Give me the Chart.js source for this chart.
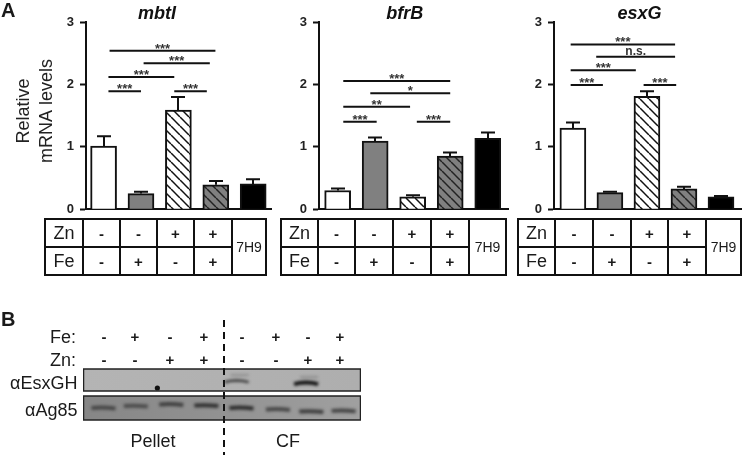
<!DOCTYPE html>
<html>
<head>
<meta charset="utf-8">
<script src="https://cdn.jsdelivr.net/npm/chart.js@4"></script>
<style>
  html, body { margin: 0; padding: 0; background: #fff; }
  #page { position: relative; width: 742px; height: 455px; overflow: hidden; font-family: "Liberation Sans", Arial, sans-serif; color: #1a1a1a; }
  canvas { position: absolute; display: block; }
  .txt { position: absolute; white-space: nowrap; line-height: 1; will-change: transform; }
  table { position: absolute; border-collapse: collapse; table-layout: fixed; will-change: transform; }
  td { border: 2px solid #111; padding: 0; text-align: center; height: 26px; font-size: 15px; font-weight: bold; }
  td.name { font-size: 18px; font-weight: normal; }
  td.m { font-size: 14px; font-weight: normal; }
  #dash { position: absolute; left: 223px; top: 320px; height: 135px; width: 2px;
    background: repeating-linear-gradient(to bottom, #111 0 7px, transparent 7px 12px); }
</style>
</head>
<body>
<div id="page">
  <canvas id="mbtI" width="272" height="223" style="left:0;top:0"></canvas>
  <canvas id="bfrB" width="274" height="223" style="left:235px;top:0"></canvas>
  <canvas id="esxG" width="273" height="223" style="left:469px;top:0"></canvas>
  <canvas id="blot" width="278" height="53" style="left:83px;top:368px"></canvas>
  <div id="dash"></div>
</div>
<script>
// DATA
const yTicks = [0, 1, 2, 3];
const znRow = ['-', '-', '+', '+'];
const feRow = ['-', '+', '-', '+'];
const otherLabel = '7H9';

const mbtIValues = [1.01, 0.25, 1.59, 0.39, 0.405];
const mbtIErrors = [1.17, 0.28, 1.80, 0.45, 0.48];
const mbtIFrom = [0.16, 1.07, 0.13, 0.13, 1.89];
const mbtITo = [2.99, 2.84, 1.89, 1.00, 2.76];
const mbtILevel = [2.54, 2.34, 2.12, 1.89, 1.89];
const mbtIMarks = ['***', '***', '***', '***', '***'];

const bfrBValues = [0.30, 1.09, 0.20, 0.85, 1.137];
const bfrBErrors = [0.33, 1.15, 0.225, 0.91, 1.23];
const bfrBFrom = [0.15, 0.87, 0.15, 0.15, 2.11];
const bfrBTo = [3.00, 3.00, 1.93, 1.04, 3.00];
const bfrBLevel = [2.055, 1.86, 1.64, 1.40, 1.40];
const bfrBMarks = ['***', '*', '**', '***', '***'];

const esxGValues = [1.30, 0.265, 1.81, 0.325, 0.197];
const esxGErrors = [1.39, 0.28, 1.89, 0.36, 0.21];
const esxGFrom = [-0.06, 0.63, -0.06, -0.06, 1.91];
const esxGTo = [2.76, 2.76, 1.70, 0.81, 2.79];
const esxGLevel = [2.64, 2.445, 2.226, 1.99, 1.99];
const esxGMarks = ['***', 'n.s.', '***', '***', '***'];

// blot lanes, band position is fraction of strip height
const blotFe = ['-', '+', '-', '+', '-', '+', '-', '+'];
const blotZn = ['-', '-', '+', '+', '-', '-', '+', '+'];
const ag85Lane = [0.59, 1.52, 2.54, 3.55, 4.56, 5.61, 6.57, 7.5];
const ag85Pos = [0.5, 0.42, 0.35, 0.4, 0.5, 0.56, 0.65, 0.62];
const ag85Signal = [0.7, 0.65, 0.8, 0.95, 1, 0.75, 0.85, 0.8];
const esxLane = [4.42, 6.42];
const esxPos = [0.55, 0.64];
const esxSignal = [0.8, 1];

function hatch(bg, line) {
  const c = document.createElement('canvas');
  c.width = 9; c.height = 9;
  const x = c.getContext('2d');
  x.fillStyle = bg; x.fillRect(0, 0, 9, 9);
  x.strokeStyle = line; x.lineWidth = 1.5;
  [-9, 0, 9].forEach(o => { x.beginPath(); x.moveTo(o, 0); x.lineTo(o + 9, 9); x.stroke(); });
  return x.createPattern(c, 'repeat');
}
const fills = ['#ffffff', '#808080', hatch('#ffffff', '#111111'), hatch('#808080', '#222222'), '#000000'];

// error bars, significance marks and the gene name
const extras = {
  id: 'extras',
  beforeDatasetsDraw(chart, args, o) {
    const ctx = chart.ctx, sx = chart.scales.x, sy = chart.scales.y;
    ctx.save();
    ctx.strokeStyle = '#111'; ctx.lineWidth = 2;
    o.errors.forEach((e, i) => {
      const px = Math.round(sx.getPixelForValue(i)), top = sy.getPixelForValue(e);
      ctx.beginPath();
      ctx.moveTo(px, sy.getPixelForValue(o.values[i])); ctx.lineTo(px, top);
      ctx.moveTo(px - 7, top); ctx.lineTo(px + 7, top);
      ctx.stroke();
    });
    ctx.restore();
  },
  afterDraw(chart, args, o) {
    const ctx = chart.ctx, sx = chart.scales.x, sy = chart.scales.y;
    ctx.save();
    ctx.textAlign = 'center';
    ctx.fillStyle = '#333';
    o.marks.forEach((m, i) => {
      const px = sx.getPixelForValue((o.from[i] + o.to[i]) / 2), py = sy.getPixelForValue(o.level[i]);
      ctx.textBaseline = 'alphabetic';
      if (m === 'n.s.') {
        ctx.font = 'bold 12px "Liberation Sans"';
        ctx.fillText(m, px, py - 2);
      } else {
        ctx.font = 'bold 13px "Liberation Sans"';
        ctx.fillText(m, px, py + 2);
      }
    });
    ctx.fillStyle = '#111';
    ctx.font = 'italic bold 18px "Liberation Sans"';
    ctx.textBaseline = 'middle';
    ctx.fillText(o.name, sx.getPixelForValue(o.nameAt), 14);
    if (o.yLabel) {
      ctx.fillStyle = '#222';
      ctx.font = '18px "Liberation Sans"';
      o.yLabel.forEach((line, i) => {
        ctx.save();
        ctx.translate(24 + i * 23, 111);
        ctx.rotate(-Math.PI / 2);
        ctx.fillText(line, 0, 0);
        ctx.restore();
      });
    }
    ctx.restore();
  }
};

function makeChart(name, values, errors, from, to, level, marks, opt) {
  const datasets = [{
    type: 'bar',
    data: values.map((v, i) => ({ x: i, y: v })),
    backgroundColor: fills,
    borderColor: '#111',
    borderWidth: 2,
    barThickness: 26
  }];
  from.forEach((f, i) => {
    datasets.push({
      type: 'scatter',
      data: [{ x: f, y: level[i] }, { x: to[i], y: level[i] }],
      showLine: true,
      borderColor: '#111',
      borderWidth: 2,
      pointRadius: 0
    });
  });
  new Chart(document.getElementById(name), {
    type: 'bar',
    data: { datasets: datasets },
    plugins: [extras],
    options: {
      responsive: false,
      animation: false,
      layout: { padding: { top: 22, bottom: 8, right: 1, left: 0 } },
      plugins: {
        legend: { display: false },
        tooltip: { enabled: false },
        extras: { name, values, errors, from, to, level, marks, nameAt: opt.nameAt, yLabel: opt.yLabel }
      },
      scales: {
        x: {
          type: 'linear', min: opt.min, max: opt.max, offset: false,
          grid: { display: false },
          border: { color: '#111', width: 2 },
          ticks: { display: false },
          afterFit: s => { s.height = 0; }
        },
        y: {
          min: 0, max: 3,
          afterBuildTicks: s => { s.ticks = yTicks.map(v => ({ value: v })); },
          afterFit: s => { s.width = opt.axisWidth; },
          grid: { drawOnChartArea: false, tickLength: 6, tickColor: '#111', tickWidth: 2 },
          border: { color: '#111', width: 2 },
          ticks: { color: '#222', padding: 6, font: { family: '"Liberation Sans"', size: 13, weight: 'bold' } }
        }
      }
    }
  });
}

makeChart('mbtI', mbtIValues, mbtIErrors, mbtIFrom, mbtITo, mbtILevel, mbtIMarks,
  { min: -0.47, max: 4.476, nameAt: 1.43, axisWidth: 86, yLabel: ['Relative', 'mRNA levels'] });
makeChart('bfrB', bfrBValues, bfrBErrors, bfrBFrom, bfrBTo, bfrBLevel, bfrBMarks,
  { min: -0.497, max: 4.54, nameAt: 1.79, axisWidth: 84 });
makeChart('esxG', esxGValues, esxGErrors, esxGFrom, esxGTo, esxGLevel, esxGMarks,
  { min: -0.51, max: 4.54, nameAt: 1.8, axisWidth: 85 });

// condition tables under the bars
const page = document.getElementById('page');
function addTable(left, widths) {
  const t = document.createElement('table');
  t.style.left = left + 'px';
  t.style.top = '218px';
  t.style.width = widths.reduce((a, b) => a + b, 0) + 'px';
  let html = '<colgroup>' + widths.map(w => '<col style="width:' + w + 'px">').join('') + '</colgroup>';
  html += '<tr><td class="name">Zn</td>' + znRow.map(v => '<td>' + v + '</td>').join('') + '<td rowspan="2" class="m">' + otherLabel + '</td></tr>';
  html += '<tr><td class="name">Fe</td>' + feRow.map(v => '<td>' + v + '</td>').join('') + '</tr>';
  t.innerHTML = html;
  page.appendChild(t);
}
addTable(44, [38, 37, 37, 37, 38, 34]);
addTable(280, [37, 37, 38, 38, 38, 37]);
addTable(517, [37, 38, 38, 37, 38, 35]);

// loose text
function addText(str, x, y, size, align, bold) {
  const d = document.createElement('div');
  d.className = 'txt';
  d.textContent = str;
  d.style.fontSize = size + 'px';
  if (bold) d.style.fontWeight = 'bold';
  d.style.top = (y - size / 2) + 'px';
  if (align === 'right') { d.style.right = (742 - x) + 'px'; }
  else if (align === 'center') { d.style.left = x + 'px'; d.style.transform = 'translateX(-50%)'; }
  else { d.style.left = x + 'px'; }
  page.appendChild(d);
}
addText('A', 1, 10, 20, 'left', true);
addText('B', 1, 319, 20, 'left', true);
addText('Fe:', 76, 337, 18, 'right');
addText('Zn:', 76, 360, 18, 'right');
addText('αEsxGH', 77, 383, 18, 'right');
addText('αAg85', 77, 410, 18, 'right');
addText('Pellet', 153, 441, 18, 'center');
addText('CF', 288, 441, 18, 'center');
const laneCentres = [104, 135, 170, 204, 242, 276, 308, 340];
laneCentres.forEach((x, i) => {
  addText(blotFe[i], x, 336, 15, 'center', true);
  addText(blotZn[i], x, 359, 15, 'center', true);
});

// western blot strips, bands placed through the lane scale
const blotDraw = {
  id: 'blotDraw',
  beforeDatasetsDraw(chart) {
    const ctx = chart.ctx, sx = chart.scales.x;
    const strip1 = { top: 1, h: 22 }, strip2 = { top: 28, h: 24 };
    const g1 = ctx.createLinearGradient(0, 0, 278, 0);
    g1.addColorStop(0, '#b4b4b4'); g1.addColorStop(1, '#aeaeae');
    const g2 = ctx.createLinearGradient(0, 0, 278, 0);
    g2.addColorStop(0, '#868686'); g2.addColorStop(0.5, '#929292'); g2.addColorStop(1, '#a0a0a0');
    ctx.save();
    ctx.fillStyle = g1; ctx.fillRect(0, strip1.top, 278, strip1.h);
    ctx.fillStyle = g2; ctx.fillRect(0, strip2.top, 278, strip2.h);
    ctx.filter = 'blur(1.5px)';
    ag85Lane.forEach((l, i) => {
      const x = sx.getPixelForValue(l), y = strip2.top + ag85Pos[i] * strip2.h;
      ctx.strokeStyle = 'rgba(25,25,25,' + ag85Signal[i] * 0.85 + ')';
      ctx.lineWidth = 4;
      ctx.beginPath(); ctx.moveTo(x - 12, y); ctx.quadraticCurveTo(x, y - 1, x + 12, y + 0.5); ctx.stroke();
    });
    esxLane.forEach((l, i) => {
      const x = sx.getPixelForValue(l), y = strip1.top + esxPos[i] * strip1.h;
      ctx.strokeStyle = 'rgba(15,15,15,' + esxSignal[i] + ')';
      ctx.lineWidth = i ? 4 : 2.5;
      ctx.beginPath(); ctx.moveTo(x - 12, y + 1); ctx.quadraticCurveTo(x, y - 2, x + 12, y + 1); ctx.stroke();
      ctx.strokeStyle = 'rgba(60,60,60,0.3)';
      ctx.lineWidth = 2;
      ctx.beginPath(); ctx.moveTo(x - 6, y - 6); ctx.lineTo(x + 12, y - 6); ctx.stroke();
    });
    // the dark spot at the foot of the third pellet lane
    ctx.filter = 'blur(0.6px)';
    ctx.fillStyle = '#111';
    ctx.beginPath(); ctx.arc(sx.getPixelForValue(2.14), 20, 2.6, 0, Math.PI * 2); ctx.fill();
    ctx.filter = 'none';
    ctx.strokeStyle = '#222'; ctx.lineWidth = 1.5;
    ctx.strokeRect(0.5, strip1.top, 277, strip1.h);
    ctx.strokeRect(0.5, strip2.top, 277, strip2.h);
    ctx.restore();
  }
};
new Chart(document.getElementById('blot'), {
  type: 'scatter',
  data: { datasets: [] },
  plugins: [blotDraw],
  options: {
    responsive: false,
    animation: false,
    plugins: { legend: { display: false }, tooltip: { enabled: false } },
    scales: {
      x: { type: 'linear', min: 0, max: 8, display: false },
      y: { min: 0, max: 1, display: false }
    }
  }
});
</script>
</body>
</html>
